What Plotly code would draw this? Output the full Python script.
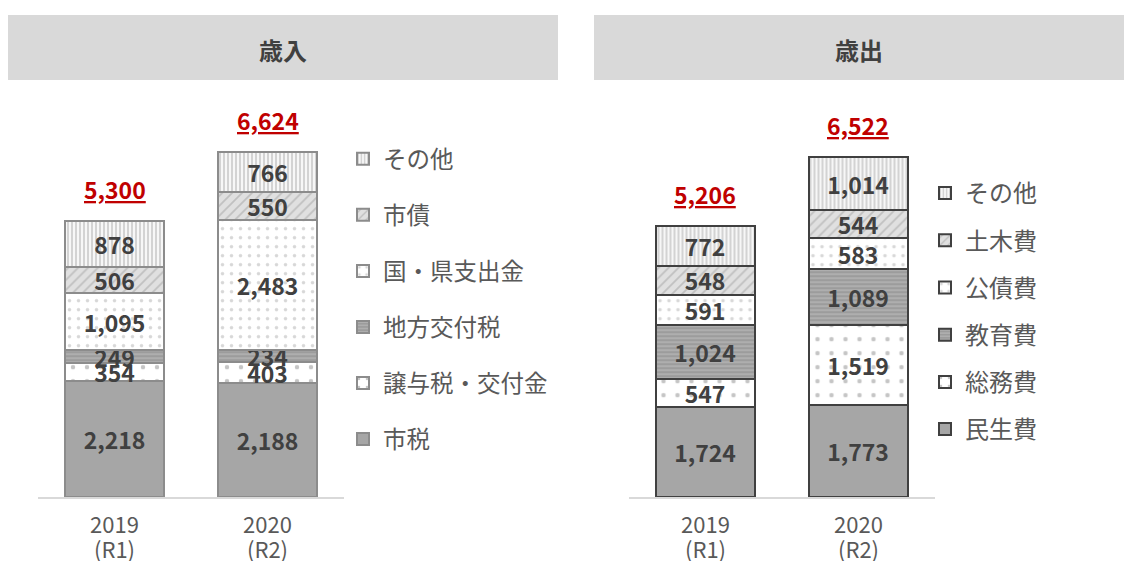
import plotly.graph_objects as go

years = ["2019<br>(R1)", "2020<br>(R2)"]

rev_names = ["市税", "譲与税・交付金", "地方交付税", "国・県支出金", "市債", "その他"]
rev_2019 = [2218, 354, 249, 1095, 506, 878]
rev_2020 = [2188, 403, 234, 2483, 550, 766]
rev_totals = [5300, 6624]

exp_names = ["民生費", "総務費", "教育費", "公債費", "土木費", "その他"]
exp_2019 = [1724, 547, 1024, 591, 548, 772]
exp_2020 = [1773, 1519, 1089, 583, 544, 1014]
exp_totals = [5206, 6522]

FONT = "Noto Sans CJK JP, Noto Sans, sans-serif"
W, H = 1131, 561

# style per stack level (bottom -> top)
styles = [
    dict(color="#a6a6a6", pattern=dict(shape="")),
    dict(color="#ffffff", pattern=dict(shape=".", fgcolor="#8c8c8c", bgcolor="#ffffff", size=14, solidity=0.08)),
    dict(color="#a6a6a6", pattern=dict(shape="-", fgcolor="#c8c8c8", bgcolor="#9c9c9c", size=4, solidity=0.4)),
    dict(color="#ffffff", pattern=dict(shape=".", fgcolor="#b0b0b0", bgcolor="#ffffff", size=9, solidity=0.12)),
    dict(color="#d9d9d9", pattern=dict(shape="/", fgcolor="#a0a0a0", bgcolor="#e0e0e0", size=7, solidity=0.25)),
    dict(color="#ffffff", pattern=dict(shape="|", fgcolor="#a6a6a6", bgcolor="#f7f7f7", size=4, solidity=0.45)),
]

fig = go.Figure()


def add_stack(names, v19, v20, xaxis, yaxis, legend, line_color, gname):
    for i, name in enumerate(names):
        st = styles[i]
        fig.add_trace(go.Bar(
            x=years, y=[v19[i], v20[i]], name=name,
            xaxis=xaxis, yaxis=yaxis, legend=legend,
            legendgroup=gname + str(i), legendrank=100 - i,
            marker=dict(color=st["color"], pattern=st["pattern"],
                        line=dict(color=line_color, width=2)),
            width=0.647,
            texttemplate="<b>%{y:,}</b>", textposition="inside",
            insidetextanchor="middle", constraintext="none",
            textfont=dict(size=23, color="#404040", family=FONT),
            hoverinfo="skip",
        ))


add_stack(rev_names, rev_2019, rev_2020, "x", "y", "legend", "#8c8c8c", "r")
add_stack(exp_names, exp_2019, exp_2020, "x2", "y2", "legend2", "#404040", "e")


def px_x(p):
    return p / W


def px_y(p):
    return 1 - p / H


ydom = [px_y(497), px_y(497 - 8000 * 0.0521)]

axis_common = dict(showgrid=False, zeroline=False, showticklabels=False, automargin=False)
xcommon = dict(type="category", range=[-0.5, 1.5], showline=True, linecolor="#d9d9d9",
               linewidth=2, ticks="", showgrid=False, showticklabels=False,
               automargin=False)

fig.update_layout(
    width=W, height=H, margin=dict(l=0, r=0, t=0, b=0, autoexpand=False),
    paper_bgcolor="white", plot_bgcolor="white",
    barmode="stack", showlegend=True,
    font=dict(family=FONT),
    xaxis=dict(domain=[px_x(38), px_x(344)], anchor="y", **xcommon),
    yaxis=dict(domain=ydom, range=[0, 8000], anchor="x", **axis_common),
    xaxis2=dict(domain=[px_x(628.5), px_x(934.5)], anchor="y2", **xcommon),
    yaxis2=dict(domain=ydom, range=[0, 8000], anchor="x2", **axis_common),
    legend=dict(x=px_x(343), y=px_y(137), xanchor="left", yanchor="top",
                traceorder="grouped", tracegroupgap=22.5,
                font=dict(size=23.5, color="#595959", family=FONT),
                bgcolor="rgba(0,0,0,0)"),
    legend2=dict(x=px_x(925), y=px_y(171), xanchor="left", yanchor="top",
                 traceorder="grouped", tracegroupgap=13,
                 font=dict(size=24, color="#595959", family=FONT),
                 bgcolor="rgba(0,0,0,0)"),
)

# header boxes
for x0, x1, title in [(8, 558, "歳入"), (594, 1124, "歳出")]:
    fig.add_shape(type="rect", xref="paper", yref="paper",
                  x0=px_x(x0), x1=px_x(x1), y0=px_y(80), y1=px_y(15),
                  fillcolor="#d9d9d9", line=dict(width=0), layer="below")
    fig.add_annotation(xref="paper", yref="paper", x=px_x((x0 + x1) / 2), y=px_y(50),
                       xanchor="center", yanchor="middle",
                       text="<b>" + title + "</b>", showarrow=False,
                       font=dict(size=24, color="#404040", family=FONT))

# category labels (two lines placed under each bar)
for xa in ["x", "x2"]:
    for cat in years:
        for line_text, py in zip(cat.split("<br>"), [523, 548]):
            fig.add_annotation(xref=xa, yref="paper", x=cat, y=px_y(py),
                               xanchor="center", yanchor="middle",
                               text=line_text, showarrow=False,
                               font=dict(size=22, color="#595959", family=FONT))

# total labels
for xa, ya, totals in [("x", "y", rev_totals), ("x2", "y2", exp_totals)]:
    for i, t in enumerate(totals):
        fig.add_annotation(xref=xa, yref=ya, x=years[i], y=t,
                           text="<u><b>{:,}</b></u>".format(t), showarrow=False,
                           xanchor="center", yanchor="middle", yshift=32,
                           font=dict(size=23, color="#c00000", family=FONT))

fig.write_html(
    "out.html",
    config={"displayModeBar": False},
    post_script="document.documentElement.style.margin='0';"
                "document.body.style.margin='0';"
                "document.body.style.overflow='hidden';",
)
